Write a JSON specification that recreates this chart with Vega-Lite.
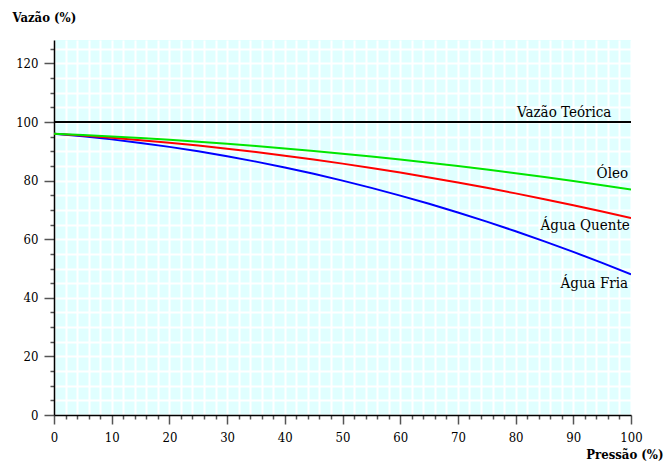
{
  "$schema": "https://vega.github.io/schema/vega-lite/v6.json",
  "width": 577,
  "height": 375,
  "autosize": "none",
  "padding": {"left": 54, "top": 40, "right": 37, "bottom": 46},
  "background": "white",
  "view": {"fill": "#E0FFFF", "stroke": null},
  "config": {
    "font": "DejaVu Serif Condensed, DejaVu Serif",
    "axis": {
      "labelFont": "DejaVu Serif Condensed, DejaVu Serif",
      "titleFont": "DejaVu Serif Condensed, DejaVu Serif",
      "labelFontSize": 13,
      "labelColor": "#000",
      "labelOverlap": false,
      "labelFlush": false,
      "domainColor": "#000",
      "domainWidth": 1.5,
      "tickColor": "#555",
      "tickWidth": 1.5,
      "gridColor": "white",
      "gridWidth": 2,
      "gridOpacity": 1,
      "titleFontSize": 13,
      "titleFontWeight": "bold",
      "titleColor": "#000"
    }
  },
  "datasets": {
    "curves": [
      {"p": 0, "v": 96, "s": "Água Fria"},
      {"p": 5, "v": 95.12, "s": "Água Fria"},
      {"p": 10, "v": 94.08, "s": "Água Fria"},
      {"p": 15, "v": 92.88, "s": "Água Fria"},
      {"p": 20, "v": 91.52, "s": "Água Fria"},
      {"p": 25, "v": 90.0, "s": "Água Fria"},
      {"p": 30, "v": 88.32, "s": "Água Fria"},
      {"p": 35, "v": 86.48, "s": "Água Fria"},
      {"p": 40, "v": 84.48, "s": "Água Fria"},
      {"p": 45, "v": 82.32, "s": "Água Fria"},
      {"p": 50, "v": 80.0, "s": "Água Fria"},
      {"p": 55, "v": 77.52, "s": "Água Fria"},
      {"p": 60, "v": 74.88, "s": "Água Fria"},
      {"p": 65, "v": 72.08, "s": "Água Fria"},
      {"p": 70, "v": 69.12, "s": "Água Fria"},
      {"p": 75, "v": 66.0, "s": "Água Fria"},
      {"p": 80, "v": 62.72, "s": "Água Fria"},
      {"p": 85, "v": 59.28, "s": "Água Fria"},
      {"p": 90, "v": 55.68, "s": "Água Fria"},
      {"p": 95, "v": 51.92, "s": "Água Fria"},
      {"p": 100, "v": 48.0, "s": "Água Fria"},
      {"p": 0, "v": 96, "s": "Água Quente"},
      {"p": 5, "v": 95.36, "s": "Água Quente"},
      {"p": 10, "v": 94.63, "s": "Água Quente"},
      {"p": 15, "v": 93.82, "s": "Água Quente"},
      {"p": 20, "v": 92.93, "s": "Água Quente"},
      {"p": 25, "v": 91.95, "s": "Água Quente"},
      {"p": 30, "v": 90.89, "s": "Água Quente"},
      {"p": 35, "v": 89.74, "s": "Água Quente"},
      {"p": 40, "v": 88.51, "s": "Água Quente"},
      {"p": 45, "v": 87.2, "s": "Água Quente"},
      {"p": 50, "v": 85.8, "s": "Água Quente"},
      {"p": 55, "v": 84.32, "s": "Água Quente"},
      {"p": 60, "v": 82.75, "s": "Água Quente"},
      {"p": 65, "v": 81.1, "s": "Água Quente"},
      {"p": 70, "v": 79.37, "s": "Água Quente"},
      {"p": 75, "v": 77.55, "s": "Água Quente"},
      {"p": 80, "v": 75.65, "s": "Água Quente"},
      {"p": 85, "v": 73.66, "s": "Água Quente"},
      {"p": 90, "v": 71.59, "s": "Água Quente"},
      {"p": 95, "v": 69.44, "s": "Água Quente"},
      {"p": 100, "v": 67.2, "s": "Água Quente"},
      {"p": 0, "v": 96, "s": "Óleo"},
      {"p": 5, "v": 95.56, "s": "Óleo"},
      {"p": 10, "v": 95.07, "s": "Óleo"},
      {"p": 15, "v": 94.53, "s": "Óleo"},
      {"p": 20, "v": 93.93, "s": "Óleo"},
      {"p": 25, "v": 93.28, "s": "Óleo"},
      {"p": 30, "v": 92.57, "s": "Óleo"},
      {"p": 35, "v": 91.81, "s": "Óleo"},
      {"p": 40, "v": 90.99, "s": "Óleo"},
      {"p": 45, "v": 90.12, "s": "Óleo"},
      {"p": 50, "v": 89.2, "s": "Óleo"},
      {"p": 55, "v": 88.22, "s": "Óleo"},
      {"p": 60, "v": 87.19, "s": "Óleo"},
      {"p": 65, "v": 86.11, "s": "Óleo"},
      {"p": 70, "v": 84.97, "s": "Óleo"},
      {"p": 75, "v": 83.78, "s": "Óleo"},
      {"p": 80, "v": 82.53, "s": "Óleo"},
      {"p": 85, "v": 81.23, "s": "Óleo"},
      {"p": 90, "v": 79.87, "s": "Óleo"},
      {"p": 95, "v": 78.46, "s": "Óleo"},
      {"p": 100, "v": 77.0, "s": "Óleo"},
      {"p": 0, "v": 100, "s": "Vazão Teórica"},
      {"p": 100, "v": 100, "s": "Vazão Teórica"}
    ],
    "labels": [
      {"p": 96.6, "v": 101.7, "t": "Vazão Teórica"},
      {"p": 99.5, "v": 80.8, "t": "Óleo"},
      {"p": 99.8, "v": 63.1, "t": "Água Quente"},
      {"p": 99.5, "v": 43.3, "t": "Água Fria"}
    ]
  },
  "layer": [
    {
      "data": {"name": "curves"},
      "mark": {"type": "line", "strokeWidth": 2, "clip": true},
      "encoding": {
        "x": {
          "field": "p", "type": "quantitative",
          "scale": {"domain": [0, 100], "nice": false},
          "axis": {
            "title": "Pressão (%)",
            "values": [0,2,4,6,8,10,12,14,16,18,20,22,24,26,28,30,32,34,36,38,40,42,44,46,48,50,52,54,56,58,60,62,64,66,68,70,72,74,76,78,80,82,84,86,88,90,92,94,96,98,100],
            "tickCount": 200,
            "format": "d",
            "labelExpr": "datum.value % 10 === 0 ? datum.label : ''",
            "labelOverlap": false,
            "tickSize": {"condition": {"test": "datum.value % 10 === 0", "value": 9}, "value": 4},
            "labelPadding": 7,
            "grid": true,
            "titleAnchor": "end",
            "titleAlign": "right",
            "titleX": 609,
            "titleY": 43,
            "titleBaseline": "alphabetic"
          }
        },
        "y": {
          "field": "v", "type": "quantitative",
          "scale": {"domain": [0, 128], "nice": false},
          "axis": {
            "title": "Vazão (%)",
            "values": [0,5,10,15,20,25,30,35,40,45,50,55,60,65,70,75,80,85,90,95,100,105,110,115,120,125],
            "tickCount": 200,
            "format": "d",
            "labelExpr": "datum.value % 20 === 0 ? datum.label : ''",
            "labelOverlap": false,
            "tickSize": {"condition": {"test": "datum.value % 20 === 0", "value": 10}, "value": 4},
            "labelPadding": 6,
            "grid": true,
            "titleAngle": 0,
            "titleAlign": "left",
            "titleX": -42,
            "titleY": -19,
            "titleBaseline": "alphabetic"
          }
        },
        "color": {
          "field": "s", "type": "nominal",
          "scale": {"domain": ["Água Fria", "Água Quente", "Óleo", "Vazão Teórica"], "range": ["#0000ff", "#ff0000", "#00e600", "#000000"]},
          "legend": null
        }
      }
    },
    {
      "data": {"name": "labels"},
      "mark": {"type": "text", "align": "right", "baseline": "alphabetic", "font": "DejaVu Serif Condensed, DejaVu Serif", "fontSize": 15, "color": "#000"},
      "encoding": {
        "x": {"field": "p", "type": "quantitative"},
        "y": {"field": "v", "type": "quantitative"},
        "text": {"field": "t"}
      }
    }
  ]
}
